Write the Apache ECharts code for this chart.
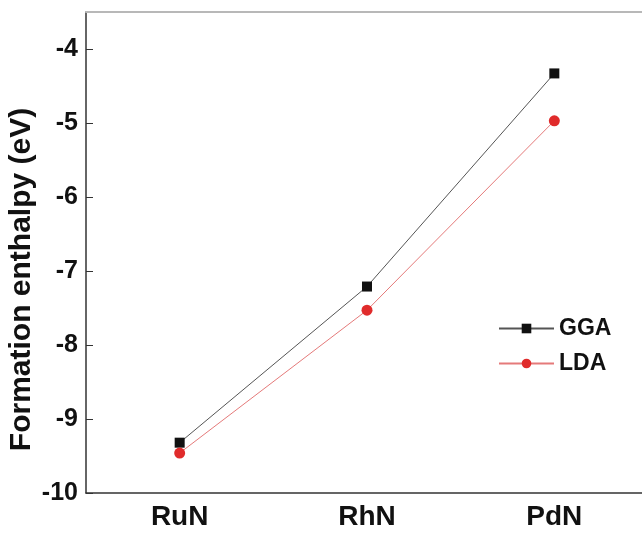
<!DOCTYPE html>
<html>
<head>
<meta charset="utf-8">
<script src="https://cdn.jsdelivr.net/npm/echarts@6/dist/echarts.min.js"></script>
<style>
  html, body { margin: 0; padding: 0; background: #fff; }
  #chart { width: 642px; height: 533px; }
</style>
</head>
<body>
<div id="chart"></div>
<script>
// Formation enthalpy of the 4d transition-metal nitrides (eV)
const categories = ['RuN', 'RhN', 'PdN'];
const ggaValues = [-9.32, -7.21, -4.33];
const ldaValues = [-9.46, -7.53, -4.97];
const yTicks = [-10, -9, -8, -7, -6, -5, -4];

const FONT = '"Liberation Sans", Arial, Helvetica, sans-serif';

const chart = echarts.init(document.getElementById('chart'), null, { renderer: 'canvas' });

chart.setOption({
  backgroundColor: '#ffffff',
  animation: false,
  grid: { left: 86, top: 12, width: 562, bottom: 40, containLabel: false, outerBoundsMode: 'none' },
  legend: {
    orient: 'vertical',
    left: 493,
    top: 312,
    itemWidth: 55,
    itemHeight: 12,
    itemGap: 12,
    textStyle: { fontFamily: FONT, fontSize: 23, fontWeight: 'bold', color: '#111' },
    data: ['GGA', 'LDA']
  },
  xAxis: [
    {
      type: 'category',
      data: categories,
      boundaryGap: true,
      axisLine: { lineStyle: { color: '#333', width: 1.5 } },
      axisTick: { inside: true, alignWithLabel: true, length: 8, lineStyle: { color: '#333', width: 1 } },
      axisLabel: { fontFamily: FONT, fontSize: 28, fontWeight: 'bold', color: '#111', margin: 10 },
      splitLine: { show: false }
    },
    {
      // frame line along the top of the plot
      type: 'category',
      data: categories,
      position: 'top',
      axisLine: { lineStyle: { color: '#b8b8b8', width: 2 } },
      axisTick: { show: false },
      axisLabel: { show: false },
      splitLine: { show: false }
    }
  ],
  yAxis: {
    type: 'value',
    min: -10,
    max: -3.5,
    interval: 1,
    name: 'Formation enthalpy (eV)',
    nameLocation: 'middle',
    nameGap: 49,
    nameMoveOverlap: false,
    nameTextStyle: {
      fontFamily: FONT, fontSize: 30, fontWeight: 'bold', color: '#111',
      padding: [0, 54, 0, 0]
    },
    axisLine: { show: true, lineStyle: { color: '#333', width: 1.5 } },
    axisTick: { show: true, inside: true, length: 7, customValues: yTicks, lineStyle: { color: '#333', width: 1 } },
    axisLabel: {
      customValues: yTicks,
      fontFamily: FONT, fontSize: 25, fontWeight: 'bold', color: '#111', margin: 8
    },
    splitLine: { show: false }
  },
  series: [
    {
      name: 'GGA',
      type: 'line',
      data: ggaValues,
      symbol: 'rect',
      symbolSize: 10,
      lineStyle: { color: '#555', width: 1 },
      itemStyle: { color: '#111' }
    },
    {
      name: 'LDA',
      type: 'line',
      data: ldaValues,
      symbol: 'circle',
      symbolSize: 11,
      lineStyle: { color: '#e57a7a', width: 1 },
      itemStyle: { color: '#e02b2b' }
    }
  ]
});
</script>
</body>
</html>
